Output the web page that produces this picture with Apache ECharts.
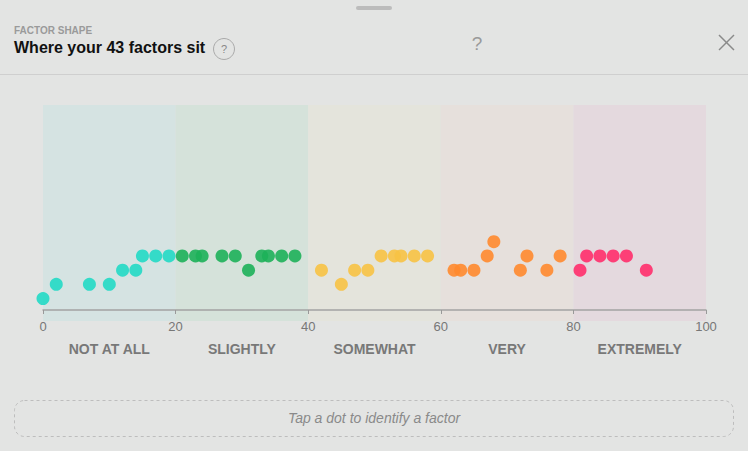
<!DOCTYPE html>
<html>
<head>
<meta charset="utf-8">
<script src="https://cdn.jsdelivr.net/npm/echarts@6/dist/echarts.min.js"></script>
<style>
  html, body { margin: 0; padding: 0; background: #e3e4e3; }
  #chart { width: 748px; height: 451px; }
</style>
</head>
<body>
<div id="chart"></div>
<script>
// bands along the 0-100 scale
const bandNames = ["NOT AT ALL", "SLIGHTLY", "SOMEWHAT", "VERY", "EXTREMELY"];
const bandEdges = [0, 20, 40, 60, 80, 100];
const bandFills = ["#d5e3e2", "#d5e2da", "#e4e4dc", "#e6e0dc", "#e4d9de"];
const dotColors = ["#22d9c5", "#1db159", "#f7c244", "#ff8a2e", "#ff2d6c"];

// factor scores and the stacking row each dot sits on
const factorScores = [0, 2, 7, 10, 12, 14, 15, 17, 19,
  21, 23, 24, 27, 29, 31, 33, 34, 36, 38,
  42, 45, 47, 49, 51, 53, 54, 56, 58,
  62, 63, 65, 67, 68, 72, 73, 76, 78,
  81, 82, 84, 86, 88, 91];
const factorRows = [0, 1, 1, 1, 2, 2, 3, 3, 3,
  3, 3, 3, 3, 3, 2, 3, 3, 3, 3,
  2, 1, 2, 2, 3, 3, 3, 3, 3,
  2, 2, 2, 3, 4, 2, 3, 2, 3,
  2, 3, 3, 3, 3, 2];

const yMin = -0.8, yMax = 13.6;
const font = '"Liberation Sans", Arial, sans-serif';

const chart = echarts.init(document.getElementById("chart"), null, { renderer: "svg" });

const dotSeries = bandNames.map((name, b) => ({
  name: name,
  type: "scatter",
  symbolSize: 13,
  z: 3,
  itemStyle: { color: dotColors[b], opacity: 0.9 },
  data: factorScores
    .map((s, i) => [s, factorRows[i]])
    .filter(p => Math.min(4, Math.floor(p[0] / 20)) === b)
}));

const bandSeries = {
  type: "custom",
  z: -1,
  silent: true,
  data: bandNames.map((n, i) => [bandEdges[i], bandEdges[i + 1], i]),
  renderItem: function (params, api) {
    const i = api.value(2);
    const a = api.coord([api.value(0), yMax]);
    const b = api.coord([api.value(1), yMin]);
    return {
      type: "group",
      children: [
        {
          type: "rect",
          shape: { x: a[0], y: a[1], width: b[0] - a[0], height: b[1] - a[1] + 11 },
          style: { fill: bandFills[i] }
        },
        {
          type: "text",
          style: {
            text: bandNames[i],
            x: (a[0] + b[0]) / 2,
            y: b[1] + 39,
            align: "center",
            verticalAlign: "middle",
            font: "bold 14px " + font,
            fill: "#787878"
          }
        }
      ]
    };
  }
};

chart.setOption({
  backgroundColor: "#e3e4e3",
  animation: false,
  grid: { left: 43, right: 42, top: 105, bottom: 141 },
  xAxis: {
    type: "value",
    min: 0,
    max: 100,
    interval: 20,
    splitLine: { show: false },
    axisLine: { onZero: false, lineStyle: { color: "#a3a3a3", width: 1.5 } },
    axisTick: { length: 4, lineStyle: { color: "#999" } },
    axisLabel: { color: "#777", fontSize: 13, fontFamily: font, margin: 10 }
  },
  yAxis: { type: "value", min: yMin, max: yMax, show: false },
  series: [bandSeries].concat(dotSeries),
  graphic: [
    { type: "rect", left: 356, top: 6, shape: { width: 36, height: 4, r: 2 }, style: { fill: "#bcbcbc" } },
    { type: "text", left: 14, top: 25, style: { text: "FACTOR SHAPE", font: "bold 10px " + font, fill: "#9a9a9a" } },
    { type: "text", left: 14, top: 39, style: { text: "Where your 43 factors sit", font: "bold 16px " + font, fill: "#111" } },
    { type: "circle", shape: { cx: 224, cy: 49, r: 10.5 }, style: { fill: "none", stroke: "#aaa", lineWidth: 1 } },
    { type: "text", x: 224, y: 49, style: { text: "?", font: "11px " + font, fill: "#888", align: "center", verticalAlign: "middle" } },
    { type: "text", x: 477, y: 43, style: { text: "?", font: "19px " + font, fill: "#9a9a9a", align: "center", verticalAlign: "middle" } },
    { type: "line", shape: { x1: 719, y1: 35, x2: 734, y2: 50 }, style: { stroke: "#8a8a8a", lineWidth: 1.5 } },
    { type: "line", shape: { x1: 734, y1: 35, x2: 719, y2: 50 }, style: { stroke: "#8a8a8a", lineWidth: 1.5 } },
    { type: "line", shape: { x1: 0, y1: 74.5, x2: 748, y2: 74.5 }, style: { stroke: "#cfcfcf", lineWidth: 1 } },
    { type: "rect", shape: { x: 14.5, y: 400.5, width: 719, height: 36, r: 10 }, style: { fill: "none", stroke: "#bdbdbd", lineWidth: 1, lineDash: [3, 3] } },
    { type: "text", x: 374, y: 418, style: { text: "Tap a dot to identify a factor", font: "italic 14px " + font, fill: "#8a8a8a", align: "center", verticalAlign: "middle" } }
  ]
});
</script>
</body>
</html>
